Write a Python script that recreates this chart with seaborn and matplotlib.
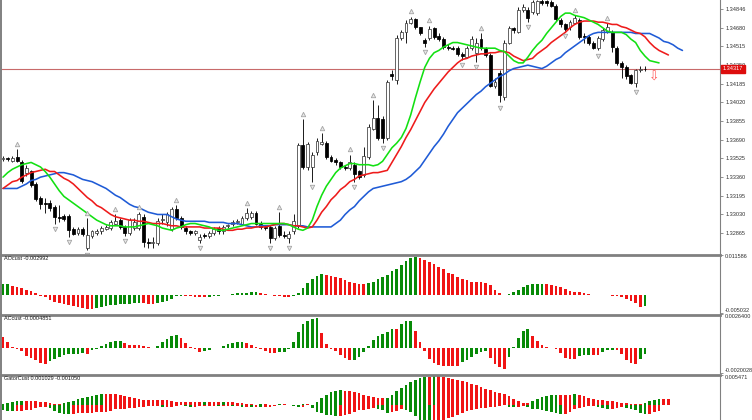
import numpy as np
import matplotlib
matplotlib.use("Agg")
import matplotlib.pyplot as plt
import matplotlib.transforms as mtransforms
import seaborn as sns

sns.set_style("white")
plt.rcParams['font.family'] = ['Liberation Sans', 'DejaVu Sans']

# ---------------- price bars ----------------
open_ = np.array([
    1.3352, 1.3353, 1.3350, 1.3354, 1.3349, 1.3340, 1.3341, 1.3330, 1.3318, 1.3313,
    1.3313, 1.3310, 1.3301, 1.3302, 1.3302, 1.3290, 1.3287, 1.3290, 1.3273, 1.3284,
    1.3287, 1.3288, 1.3290, 1.3291, 1.3295, 1.3298, 1.3292, 1.3287, 1.3291, 1.3291,
    1.3301, 1.3279, 1.3278, 1.3278, 1.3298, 1.3296, 1.3290, 1.3308, 1.3300, 1.3291,
    1.3288, 1.3287, 1.3280, 1.3285, 1.3284, 1.3287, 1.3291, 1.3288, 1.3293, 1.3295,
    1.3296, 1.3295, 1.3300, 1.3301, 1.3304, 1.3295, 1.3292, 1.3292, 1.3282, 1.3293,
    1.3285, 1.3282, 1.3288, 1.3293, 1.3364, 1.3345, 1.3345, 1.3358, 1.3365, 1.3366,
    1.3354, 1.3351, 1.3349, 1.3345, 1.3344, 1.3347, 1.3341, 1.3338, 1.3354, 1.3379,
    1.3388, 1.3387, 1.3371, 1.3427, 1.3422, 1.3459, 1.3464, 1.3472, 1.3476, 1.3469,
    1.3457, 1.3459, 1.3468, 1.3461, 1.3458, 1.3451, 1.3450, 1.3450, 1.3445, 1.3442,
    1.3450, 1.3446, 1.3458, 1.3449, 1.3444, 1.3417, 1.3428, 1.3407, 1.3455, 1.3468,
    1.3464, 1.3484, 1.3484, 1.3482, 1.3481, 1.3492, 1.3492, 1.3491, 1.3487, 1.3475,
    1.3471, 1.3469, 1.3472, 1.3475, 1.3461, 1.3460, 1.3455, 1.3450, 1.3458, 1.3464,
    1.3464, 1.3450, 1.3437, 1.3433, 1.3426, 1.3419, 1.3431, 1.3432])
high = np.array([
    1.3355, 1.3354, 1.3355, 1.3361, 1.3351, 1.3347, 1.3342, 1.3332, 1.3319, 1.3318,
    1.3316, 1.3311, 1.3311, 1.3303, 1.3303, 1.3292, 1.3292, 1.3292, 1.3300, 1.3289,
    1.3290, 1.3293, 1.3294, 1.3298, 1.3303, 1.3300, 1.3294, 1.3300, 1.3300, 1.3305,
    1.3303, 1.3282, 1.3283, 1.3300, 1.3303, 1.3305, 1.3310, 1.3311, 1.3302, 1.3293,
    1.3289, 1.3289, 1.3286, 1.3287, 1.3288, 1.3292, 1.3293, 1.3294, 1.3295, 1.3298,
    1.3299, 1.3302, 1.3309, 1.3306, 1.3306, 1.3297, 1.3294, 1.3294, 1.3293, 1.3305,
    1.3288, 1.3288, 1.3303, 1.3366, 1.3387, 1.3367, 1.3358, 1.3371, 1.3375, 1.3368,
    1.3356, 1.3353, 1.3350, 1.3347, 1.3356, 1.3349, 1.3342, 1.3363, 1.3383, 1.3404,
    1.3400, 1.3390, 1.3422, 1.3431, 1.3462, 1.3466, 1.3475, 1.3478, 1.3477, 1.3469,
    1.3459, 1.3470, 1.3469, 1.3463, 1.3460, 1.3454, 1.3452, 1.3452, 1.3447, 1.3452,
    1.3461, 1.3459, 1.3463, 1.3451, 1.3446, 1.3424, 1.3431, 1.3457, 1.3470, 1.3469,
    1.3486, 1.3489, 1.3486, 1.3493, 1.3493, 1.3494, 1.3493, 1.3493, 1.3489, 1.3477,
    1.3472, 1.3475, 1.3479, 1.3477, 1.3463, 1.3462, 1.3456, 1.3461, 1.3468, 1.3472,
    1.3466, 1.3452, 1.3439, 1.3435, 1.3427, 1.3432, 1.3434, 1.3434])
low = np.array([
    1.3350, 1.3350, 1.3349, 1.3349, 1.3331, 1.3337, 1.3327, 1.3315, 1.3308, 1.3304,
    1.3306, 1.3295, 1.3296, 1.3297, 1.3283, 1.3285, 1.3285, 1.3284, 1.3272, 1.3282,
    1.3285, 1.3286, 1.3289, 1.3289, 1.3294, 1.3290, 1.3284, 1.3285, 1.3289, 1.3289,
    1.3274, 1.3273, 1.3273, 1.3276, 1.3295, 1.3293, 1.3288, 1.3298, 1.3290, 1.3286,
    1.3285, 1.3285, 1.3278, 1.3282, 1.3282, 1.3285, 1.3286, 1.3286, 1.3291, 1.3293,
    1.3295, 1.3294, 1.3298, 1.3299, 1.3294, 1.3290, 1.3289, 1.3278, 1.3280, 1.3283,
    1.3282, 1.3278, 1.3286, 1.3291, 1.3343, 1.3342, 1.3332, 1.3356, 1.3364, 1.3352,
    1.3349, 1.3347, 1.3343, 1.3342, 1.3342, 1.3332, 1.3334, 1.3336, 1.3352, 1.3378,
    1.3369, 1.3366, 1.3369, 1.3422, 1.3418, 1.3457, 1.3455, 1.3471, 1.3467, 1.3462,
    1.3451, 1.3457, 1.3458, 1.3456, 1.3449, 1.3448, 1.3448, 1.3443, 1.3440, 1.3441,
    1.3448, 1.3438, 1.3448, 1.3442, 1.3416, 1.3415, 1.3402, 1.3404, 1.3454, 1.3463,
    1.3463, 1.3482, 1.3473, 1.3480, 1.3479, 1.3488, 1.3487, 1.3486, 1.3474, 1.3469,
    1.3465, 1.3466, 1.3471, 1.3458, 1.3455, 1.3453, 1.3449, 1.3448, 1.3456, 1.3463,
    1.3447, 1.3435, 1.3424, 1.3423, 1.3418, 1.3416, 1.3429, 1.3430])
close = np.array([
    1.3353, 1.3352, 1.3353, 1.3350, 1.3333, 1.3344, 1.3329, 1.3317, 1.3312, 1.3312,
    1.3309, 1.3301, 1.3300, 1.3299, 1.3289, 1.3286, 1.3290, 1.3286, 1.3285, 1.3288,
    1.3288, 1.3291, 1.3292, 1.3296, 1.3297, 1.3292, 1.3287, 1.3298, 1.3296, 1.3303,
    1.3279, 1.3278, 1.3279, 1.3297, 1.3299, 1.3303, 1.3308, 1.3300, 1.3292, 1.3288,
    1.3287, 1.3288, 1.3283, 1.3284, 1.3287, 1.3290, 1.3288, 1.3292, 1.3294, 1.3296,
    1.3297, 1.3300, 1.3304, 1.3304, 1.3295, 1.3292, 1.3291, 1.3282, 1.3291, 1.3285,
    1.3284, 1.3286, 1.3297, 1.3364, 1.3345, 1.3365, 1.3356, 1.3368, 1.3367, 1.3354,
    1.3350, 1.3349, 1.3345, 1.3344, 1.3349, 1.3339, 1.3336, 1.3355, 1.3380, 1.3388,
    1.3371, 1.3371, 1.3420, 1.3425, 1.3459, 1.3464, 1.3472, 1.3476, 1.3469, 1.3463,
    1.3455, 1.3467, 1.3460, 1.3458, 1.3451, 1.3450, 1.3449, 1.3445, 1.3443, 1.3450,
    1.3458, 1.3455, 1.3450, 1.3444, 1.3417, 1.3420, 1.3409, 1.3455, 1.3468, 1.3466,
    1.3484, 1.3486, 1.3477, 1.3491, 1.3492, 1.3490, 1.3490, 1.3487, 1.3476, 1.3471,
    1.3467, 1.3473, 1.3477, 1.3460, 1.3460, 1.3455, 1.3450, 1.3459, 1.3466, 1.3469,
    1.3451, 1.3437, 1.3433, 1.3425, 1.3419, 1.3431, 1.3432, 1.34317])

# fractal bars (index into the bars above)
fractal_up = [3, 18, 24, 29, 37, 52, 59, 64, 68, 74, 79, 87, 91, 102, 122, 129]
fractal_down = [11, 14, 18, 26, 42, 57, 61, 66, 75, 81, 90, 98, 101, 106, 112, 120, 127, 135]

# sell signal arrow after the last bar
signal_bar = 139
signal_price = 1.3424

# ---------------- alligator (already shifted forward) ----------------
jaw = 1.32 + np.array([
    126, 126, 126, 126, 128, 130, 133, 134, 136, 137,
    138, 139, 140, 140, 139, 138, 136, 134, 133, 132,
    130, 128, 126, 123, 120, 118, 115, 112, 110, 109,
    107, 105, 104, 103, 103, 103, 101, 99, 98, 97,
    97, 97, 97, 97, 96, 96, 96, 96, 95, 95,
    95, 94, 93, 92, 92, 93, 93, 93, 94, 94,
    94, 94, 93, 93, 93, 92, 92, 92, 92, 92,
    92, 95, 98, 103, 107, 110, 115, 119, 123, 126,
    127, 128, 129, 130, 131, 132, 134, 137, 141, 145,
    151, 157, 163, 168, 174, 181, 187, 193, 197, 201,
    205, 209, 212, 216, 219, 222, 225, 227, 230, 232,
    233, 234, 235, 234, 233, 232, 234, 237, 240, 242,
    246, 249, 252, 255, 258, 261, 263, 264, 264, 264,
    264, 264, 264, 264, 264, 263, 263, 263, 263, 261,
    259, 256, 255, 253, 250, 248]) / 10000
teeth = 1.32 + np.array([
    126, 129, 132, 133, 136, 138, 140, 141, 142, 143,
    141, 141, 138, 135, 133, 130, 126, 122, 118, 115,
    111, 109, 106, 103, 101, 100, 99, 98, 98, 97,
    97, 96, 95, 95, 95, 94, 93, 93, 92, 92,
    92, 92, 92, 91, 91, 91, 91, 90, 89, 89,
    90, 90, 91, 91, 92, 92, 92, 93, 94, 95,
    95, 94, 93, 93, 92, 91, 92, 98, 105, 110,
    116, 120, 125, 128, 132, 134, 137, 138, 139, 140,
    140, 141, 142, 149, 156, 163, 171, 178, 186, 194,
    202, 208, 214, 219, 224, 229, 233, 237, 240, 241,
    243, 244, 245, 245, 246, 246, 247, 247, 246, 243,
    241, 239, 240, 241, 245, 248, 251, 255, 258, 261,
    264, 268, 271, 273, 274, 274, 274, 273, 273, 272,
    271, 271, 269, 268, 266, 264, 263, 260, 255, 251,
    248, 246, 244]) / 10000
lips = 1.32 + np.array([
    136, 140, 143, 145, 147, 148, 149, 147, 145, 141,
    136, 130, 124, 119, 116, 113, 110, 107, 104, 101,
    98, 96, 94, 93, 93, 93, 92, 92, 92, 93,
    94, 95, 94, 93, 91, 90, 89, 91, 92, 94,
    95, 95, 94, 93, 92, 90, 89, 89, 90, 91,
    92, 93, 94, 95, 95, 95, 95, 95, 95, 95,
    95, 94, 92, 90, 89, 91, 98, 110, 120, 128,
    134, 140, 144, 146, 148, 148, 147, 147, 147, 146,
    147, 150, 156, 162, 166, 171, 179, 191, 206, 220,
    233, 241, 246, 248, 251, 253, 255, 255, 254, 253,
    252, 251, 250, 250, 250, 250, 248, 247, 243, 239,
    237, 237, 242, 248, 253, 257, 263, 268, 273, 278,
    281, 281, 279, 278, 277, 275, 273, 271, 268, 265,
    264, 264, 264, 262, 258, 255, 248, 243, 239, 238,
    237]) / 10000

# ---------------- oscillators ----------------
ao = np.array([
    0.00308, 0.00310, 0.00271, 0.00240, 0.00206, 0.00154, 0.00114, 0.00052, -0.00025, -0.00062,
    -0.00129, -0.00188, -0.00225, -0.00259, -0.00283, -0.00314, -0.00345, -0.00370, -0.00382, -0.00388,
    -0.00367, -0.00342, -0.00317, -0.00290, -0.00274, -0.00256, -0.00246, -0.00237, -0.00228, -0.00222,
    -0.00228, -0.00234, -0.00240, -0.00216, -0.00200, -0.00154, -0.00099, -0.00031, -0.00009, -0.00015,
    -0.00025, -0.00037, -0.00046, -0.00055, -0.00043, -0.00031, -0.00018, -0.00006, 0.00022, 0.00040,
    0.00055, 0.00065, 0.00074, 0.00080, 0.00083, 0.00062, 0.00034, 0.00012, -0.00015, -0.00031,
    -0.00049, -0.00062, -0.00018, 0.00068, 0.00200, 0.00339, 0.00462, 0.00554, 0.00601, 0.00573,
    0.00548, 0.00517, 0.00480, 0.00431, 0.00388, 0.00351, 0.00326, 0.00308, 0.00339, 0.00385,
    0.00462, 0.00533, 0.00579, 0.00678, 0.00748, 0.00847, 0.00986, 0.01063, 0.01084, 0.01072,
    0.01016, 0.00955, 0.00878, 0.00801, 0.00733, 0.00647, 0.00594, 0.00524, 0.00456, 0.00422,
    0.00388, 0.00379, 0.00370, 0.00351, 0.00293, 0.00154, 0.00068, 0.00015, 0.00025, 0.00080,
    0.00148, 0.00222, 0.00283, 0.00308, 0.00317, 0.00320, 0.00314, 0.00305, 0.00277, 0.00225,
    0.00179, 0.00129, 0.00099, 0.00080, 0.00065, 0.00046, 0.00022, 0.00009, 0.00015, 0.00018,
    -0.00009, -0.00028, -0.00055, -0.00102, -0.00169, -0.00231, -0.00323, -0.002992])
ac = np.array([
    0.000829, 0.000448, 0.000050, -0.000066, -0.000290, -0.000622, -0.000829, -0.000995, -0.001185, -0.001326,
    -0.001061, -0.000912, -0.000730, -0.000597, -0.000522, -0.000514, -0.000464, -0.000431, -0.000497, -0.000182,
    -0.000083, 0.000124, 0.000315, 0.000481, 0.000555, 0.000572, 0.000348, 0.000249, 0.000207, 0.000182,
    0.000108, 0.000033, -0.000017, 0.000133, 0.000456, 0.000680, 0.000953, 0.001020, 0.000746, 0.000373,
    0.000099, -0.000124, -0.000298, -0.000249, -0.000166, -0.000050, 0.000017, 0.000141, 0.000298, 0.000415,
    0.000439, 0.000448, 0.000356, 0.000232, 0.000066, -0.000124, -0.000265, -0.000406, -0.000439, -0.000373,
    -0.000365, -0.000066, 0.000456, 0.001244, 0.001865, 0.002155, 0.002305, 0.002338, 0.001161, 0.000332,
    -0.000124, -0.000249, -0.000580, -0.000846, -0.000978, -0.000937, -0.000763, -0.000332, 0.000166, 0.000622,
    0.000895, 0.001061, 0.001285, 0.001492, 0.001451, 0.001865, 0.002131, 0.002155, 0.001326, 0.000497,
    -0.000290, -0.000870, -0.001210, -0.001351, -0.001409, -0.001418, -0.001442, -0.001451, -0.001144, -0.000995,
    -0.000705, -0.000514, -0.000332, -0.000282, -0.000829, -0.001285, -0.001534, -0.001658, -0.000705, 0.000041,
    0.000788, 0.001368, 0.001459, 0.000912, 0.000539, 0.000207, 0.000050, 0.000008, -0.000099, -0.000415,
    -0.000788, -0.000912, -0.000928, -0.000688, -0.000613, -0.000555, -0.000572, -0.000580, -0.000348, -0.000216,
    -0.000166, -0.000216, -0.000497, -0.000995, -0.001227, -0.001268, -0.000912, -0.0004851])
gator_up = np.array([
    0.00009, 0.00035, 0.00062, 0.00071, 0.00080, 0.00080, 0.00071, 0.00071, 0.00062, 0.00062,
    0.00035, 0.00018, 0.00018, 0.00044, 0.00062, 0.00080, 0.00106, 0.00124, 0.00150, 0.00168,
    0.00186, 0.00194, 0.00194, 0.00194, 0.00194, 0.00177, 0.00159, 0.00141, 0.00124, 0.00115,
    0.00097, 0.00088, 0.00088, 0.00088, 0.00088, 0.00088, 0.00080, 0.00062, 0.00062, 0.00053,
    0.00053, 0.00053, 0.00053, 0.00062, 0.00053, 0.00053, 0.00053, 0.00062, 0.00062, 0.00062,
    0.00044, 0.00035, 0.00018, 0.00009, 0.0, 0.00009, 0.00009, 0.0, 0.0, 0.00009,
    0.00009, 0.0, 0.0, 0.0, 0.00009, 0.00009, 0.0, 0.00062, 0.00133, 0.00186,
    0.00239, 0.00256, 0.00265, 0.00256, 0.00248, 0.00239, 0.00221, 0.00186, 0.00159, 0.00141,
    0.00124, 0.00124, 0.00133, 0.00186, 0.00248, 0.00309, 0.00362, 0.00407, 0.00451, 0.00486,
    0.00504, 0.00504, 0.00513, 0.00513, 0.00495, 0.00477, 0.00460, 0.00442, 0.00424, 0.00407,
    0.00380, 0.00354, 0.00327, 0.00292, 0.00265, 0.00239, 0.00221, 0.00194, 0.00159, 0.00115,
    0.00080, 0.00044, 0.00044, 0.00071, 0.00115, 0.00150, 0.00168, 0.00177, 0.00186, 0.00186,
    0.00186, 0.00186, 0.00194, 0.00186, 0.00159, 0.00133, 0.00106, 0.00088, 0.00088, 0.00080,
    0.00071, 0.00062, 0.00044, 0.00035, 0.00018, 0.00009, 0.00009, 0.00035, 0.00071, 0.00097,
    0.00115, 0.00106, 0.00103])
gator_down = np.array([
    -0.00097, -0.00106, -0.00115, -0.00115, -0.00106, -0.00097, -0.00088, -0.00053, -0.00027, -0.00027,
    -0.00053, -0.00106, -0.00141, -0.00159, -0.00168, -0.00168, -0.00150, -0.00150, -0.00141, -0.00141,
    -0.00133, -0.00124, -0.00124, -0.00106, -0.00080, -0.00071, -0.00071, -0.00062, -0.00062, -0.00044,
    -0.00035, -0.00018, -0.00018, -0.00018, -0.00035, -0.00035, -0.00035, -0.00018, 0.0, -0.00018,
    -0.00027, -0.00027, -0.00018, -0.00018, -0.00009, -0.00009, -0.00018, -0.00009, -0.00009, -0.00018,
    -0.00018, -0.00027, -0.00027, -0.00035, -0.00027, -0.00035, -0.00035, -0.00027, -0.00018, 0.0,
    0.0, 0.0, -0.00009, -0.00027, -0.00027, 0.0, -0.00062, -0.00124, -0.00150, -0.00177,
    -0.00186, -0.00194, -0.00194, -0.00177, -0.00159, -0.00133, -0.00097, -0.00088, -0.00080, -0.00062,
    -0.00071, -0.00097, -0.00141, -0.00133, -0.00106, -0.00080, -0.00088, -0.00133, -0.00203, -0.00265,
    -0.00318, -0.00336, -0.00318, -0.00292, -0.00274, -0.00239, -0.00212, -0.00177, -0.00141, -0.00115,
    -0.00088, -0.00071, -0.00053, -0.00053, -0.00044, -0.00044, -0.00018, 0.0, -0.00027, -0.00044,
    -0.00044, -0.00018, -0.00027, -0.00071, -0.00080, -0.00097, -0.00115, -0.00133, -0.00150, -0.00168,
    -0.00168, -0.00133, -0.00080, -0.00053, -0.00027, -0.00009, -0.00009, -0.00027, -0.00053, -0.00071,
    -0.00071, -0.00062, -0.00044, -0.00062, -0.00080, -0.00097, -0.00141, -0.00168, -0.00168, -0.00133,
    -0.00105])

# ---------------- axis texts ----------------
price_ticks = [1.32865, 1.33030, 1.33195, 1.33360, 1.33525, 1.33690, 1.33855,
               1.34020, 1.34185, 1.34350, 1.34515, 1.34680, 1.34846]
panel_titles = ["AOcust -0.002992", "ACcust -0.0004851", "GatorCust 0.001029 -0.001050"]
ao_scale = [-0.005032, 0.011586]
ac_scale = [-0.0020028, 0.0026400]
gator_scale = [-0.005471, 0.005471]
ao_scale_labels = ["-0.005032", "0.011586"]
ac_scale_labels = ["-0.0020028", "0.0026400"]
gator_scale_labels = [None, "0.005471"]

GREEN = "#078a07"
RED = "#f01414"
JAW_C, TEETH_C, LIPS_C = "#1f5bd6", "#ee1b1b", "#12e012"
GRID_GRAY = "#808080"

# ---------------- layout (screen is 752 x 420) ----------------
W, H = 752, 420
BAR_PX, X0_PX = 4.686, 3.0
LEFT_PX, RIGHT_PX = 1, 720
xlim = ((LEFT_PX - X0_PX) / BAR_PX, (RIGHT_PX - X0_PX) / BAR_PX)
LABEL_X = 1 + 5.0 / (RIGHT_PX - LEFT_PX)   # right-hand labels start 5 px after the axis line

fig = plt.figure(figsize=(W / 100, H / 100), dpi=100)
fig.patch.set_facecolor("white")


def panel(top, bottom):
    return fig.add_axes([LEFT_PX / W, 1 - bottom / H, (RIGHT_PX - LEFT_PX) / W, (bottom - top) / H])


ax = panel(0, 253.5)
ax1 = panel(254.5, 313)
ax2 = panel(314.5, 373)
ax3 = panel(374.5, 435.5)

# candles
idx = np.arange(len(close))
bull = close >= open_
body_lo = np.minimum(open_, close)
body_h = np.abs(close - open_)
ax.vlines(idx, low, high, color="#1a1a1a", lw=0.7, zorder=2)
ax.bar(idx[bull], body_h[bull], bottom=body_lo[bull], width=0.62,
       color="white", edgecolor="#3a3a3a", linewidth=0.55, zorder=3)
ax.bar(idx[~bull], body_h[~bull], bottom=body_lo[~bull], width=0.62,
       color="black", edgecolor="black", linewidth=0.55, zorder=3)

# alligator lines
for line, col in ((jaw, JAW_C), (teeth, TEETH_C), (lips, LIPS_C)):
    sns.lineplot(x=np.arange(len(line)), y=line, ax=ax, color=col, linewidth=1.15, zorder=4)

# fractals
gap = 0.00045
ax.plot(fractal_up, high[fractal_up] + gap, ls="none", marker="^", ms=3.2,
        mfc="#e8e8e8", mec="#a4a4a4", mew=0.6, zorder=5)
ax.plot(fractal_down, low[fractal_down] - gap, ls="none", marker="v", ms=3.2,
        mfc="#e8e8e8", mec="#a4a4a4", mew=0.6, zorder=5)

# current price line and label
ax.axhline(close[-1], color="#c86a6a", lw=0.8, zorder=1.5)
blend = mtransforms.blended_transform_factory(ax.transAxes, ax.transData)
ax.text(1.004, close[-1], f"{close[-1]:.5f}", transform=blend, ha="left", va="center",
        fontsize=4, color="white", zorder=10,
        bbox=dict(boxstyle="square,pad=0.3", fc="#dd0d0d", ec="#dd0d0d"))

# sell arrow
ax.text(signal_bar, signal_price, "\u21e9", ha="center", va="center", fontsize=9,
        color="#ff5555", family=["DejaVu Sans"], zorder=6)

ax.set_ylim(1.34926 - 253.5 * 0.0000884, 1.34926)
ax.set_yticks(price_ticks)
ax.set_yticklabels([f"{v:.5f}" for v in price_ticks])


def draw_hist(axis, values, tone, first):
    xs = np.arange(len(values))
    step = np.diff(tone, prepend=np.nan)
    state = np.where(step > 0, "up", "down")
    state[0] = first
    sns.barplot(x=xs, y=values, hue=state, palette={"up": GREEN, "down": RED},
                native_scale=True, dodge=False, width=0.58, saturation=1,
                linewidth=0, errorbar=None, legend=False, ax=axis)


draw_hist(ax1, ao, ao, "up")
draw_hist(ax2, ac, ac, "down")
draw_hist(ax3, gator_up, np.abs(gator_up), "up")
draw_hist(ax3, gator_down, np.abs(gator_down), "up")

# sub-window scales: min at the bottom edge, max at the top edge
for a, lim, labs in ((ax1, ao_scale, ao_scale_labels),
                     (ax2, ac_scale, ac_scale_labels),
                     (ax3, gator_scale, gator_scale_labels)):
    a.set_ylim(*lim)
    shown = [v for v, s in zip(lim, labs) if s]
    a.set_yticks(shown)
    a.set_yticklabels([])
    if labs[0]:
        a.text(LABEL_X, 0.0, labs[0], transform=a.transAxes, ha="left", va="bottom",
               fontsize=4, color="#303030")
    if labs[1]:
        a.text(LABEL_X, 1.0, labs[1], transform=a.transAxes, ha="left", va="top",
               fontsize=4, color="#303030")

for a, title in zip((ax1, ax2, ax3), panel_titles):
    a.text(3 / 719, 1 - 1.5 / 58.5, title, transform=a.transAxes, ha="left", va="top",
           fontsize=4, color="#1a1a1a")

for a in (ax, ax1, ax2, ax3):
    a.set_xlim(*xlim)
    a.set_xticks([])
    a.set_xlabel("")
    a.set_ylabel("")
    a.set_facecolor("white")
    a.yaxis.tick_right()
    a.tick_params(axis="y", direction="out", length=2.5, width=0.6, color=GRID_GRAY,
                  labelsize=4, labelcolor="#303030", pad=1.2)
    a.spines["bottom"].set_visible(False)
    a.spines["left"].set_color(GRID_GRAY)
    a.spines["left"].set_linewidth(1.4)
    a.spines["right"].set_color(GRID_GRAY)
    a.spines["right"].set_linewidth(0.8)
    a.spines["top"].set_color(GRID_GRAY)
    a.spines["top"].set_linewidth(2.0)
ax.spines["top"].set_visible(False)

fig.savefig("out.png", dpi=100, facecolor="white")
